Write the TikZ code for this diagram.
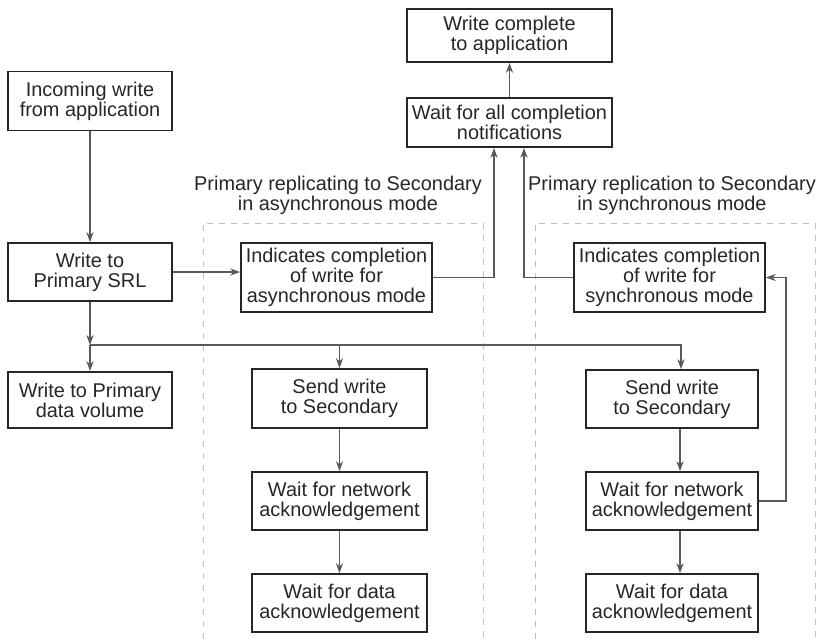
\documentclass[tikz,border=0pt]{standalone}
\usepackage{fontspec}
\setmainfont{Liberation Sans}
\usetikzlibrary{arrows.meta,calc}
\begin{document}
\begin{tikzpicture}[x=0.5pt,y=-0.5pt,
    box/.style={draw=black!85, line width=0.9pt, inner sep=0pt, align=center,
      text=black!85, font=\fontsize{9.95}{10}\selectfont},
    flow/.style={draw=black!65, line width=0.65pt, -{Stealth[length=5pt,width=3.6pt]}},
    frame/.style={draw=black!25, line width=0.5pt, dash pattern=on 3pt off 3pt},
    caption/.style={align=center, text=black!85, font=\fontsize{9.95}{10}\selectfont}]
  \useasboundingbox (0,0) rectangle (824,639);
  % Dashed frames
  \draw[frame] (203,639) -- (203,223) -- (483,223) -- (483,639);
  \draw[frame] (535,639) -- (535,223) -- (815,223) -- (815,639);
  \node[caption] (labasyn) at (338,195) {Primary replicating to Secondary\\in asynchronous mode};
  \node[caption] (labsyn) at (672,195) {Primary replication to Secondary\\in synchronous mode};
  % Primary side
  \node[box, minimum width=82pt, minimum height=29.5pt] (incoming) at (90,101) {Incoming write\\from application};
  \node[box, minimum width=82pt, minimum height=29pt] (srl) at (90,272) {Write to\\Primary SRL};
  \node[box, minimum width=82pt, minimum height=28pt] (volume) at (90,400) {Write to Primary\\data volume};
  % Completion
  \node[box, minimum width=102.5pt, minimum height=26.5pt] (complete) at (509.5,35.5) {Write complete\\to application};
  \node[box, minimum width=102.5pt, minimum height=24.5pt] (waitall) at (509.5,122.5) {Wait for all completion\\notifications};
  % Asynchronous column
  \node[box, minimum width=95.5pt, minimum height=34.5pt] (asyn) at (336.5,277.5) {Indicates completion\\of write for\\asynchronous mode};
  \node[box, minimum width=87.5pt, minimum height=29.5pt] (sendA) at (339.5,398.5) {Send write\\to Secondary};
  \node[box, minimum width=87.5pt, minimum height=29pt] (netA) at (339.5,501) {Wait for network\\acknowledgement};
  \node[box, minimum width=87.5pt, minimum height=29pt] (dataA) at (339.5,603) {Wait for data\\acknowledgement};
  % Synchronous column
  \node[box, minimum width=95.5pt, minimum height=34.5pt] (syn) at (669.5,277.5) {Indicates completion\\of write for\\synchronous mode};
  \node[box, minimum width=86pt, minimum height=29pt] (sendB) at (672,399) {Send write\\to Secondary};
  \node[box, minimum width=86pt, minimum height=29pt] (netB) at (672,501) {Wait for network\\acknowledgement};
  \node[box, minimum width=86pt, minimum height=29pt] (dataB) at (672,603) {Wait for data\\acknowledgement};
  % Connectors
  \coordinate (split) at (90,345);
  \draw[flow] (incoming) -- (srl);
  \draw[flow] (srl.east) -- (srl.east -| asyn.west);
  \draw[flow] (srl) -- (split);
  \draw[flow] (split) -- (volume);
  \draw[flow] (split) -| ($(sendB.north)+(9,0)$);
  \draw[flow] (split -| sendA.north) -- (sendA.north);
  \draw[flow] (sendA) -- (netA);
  \draw[flow] (netA) -- (dataA);
  \draw[flow] ($(sendB.south)+(8,0)$) -- ($(netB.north)+(8,0)$);
  \draw[flow] ($(netB.south)+(8,0)$) -- ($(dataB.north)+(8,0)$);
  \draw[flow] (netB.east) -- ++(27,0) |- (syn.east);
  \draw[flow] (asyn.east) -| ($(waitall.south)+(-15.5,0)$);
  \draw[flow] (syn.west) -| ($(waitall.south)+(14.5,0)$);
  \draw[flow] (waitall) -- (complete);
\end{tikzpicture}
\end{document}
